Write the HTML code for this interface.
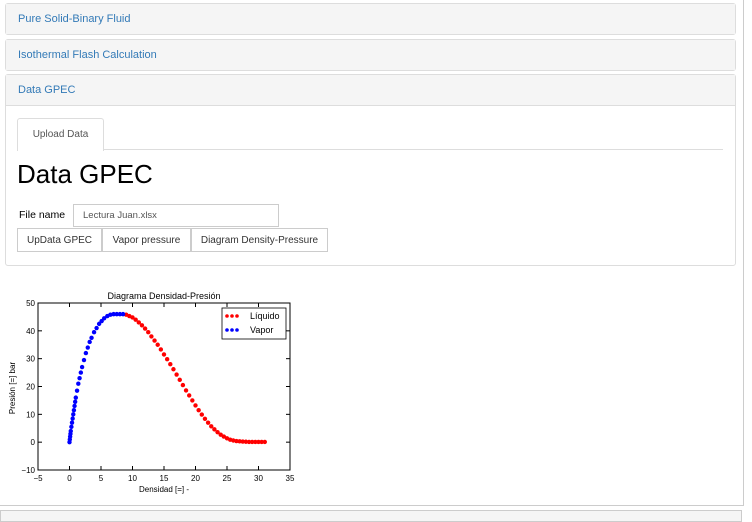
<!DOCTYPE html>
<html><head><meta charset="utf-8"><style>
body{margin:0;width:752px;height:517px;overflow:hidden;background:#fff;font-family:"Liberation Sans",sans-serif;position:relative}
.panel{position:absolute;left:5px;width:729px;border:1px solid #ddd;border-radius:3px;background:#fff}
.ph{background:#f5f5f5;height:30px;line-height:30px;padding-left:12px;font-size:11px;color:#337ab7}
.abs{position:absolute}
.btn{position:absolute;top:228px;height:24px;border:1px solid #ccc;background:#fff;font-size:10px;line-height:23px;text-align:center;color:#333;box-sizing:border-box}
</style></head><body>
<div class="abs" style="left:743px;top:0;width:1px;height:506px;background:#ccc"></div>
<div class="abs" style="left:0;top:505px;width:744px;height:1px;background:#ccc"></div>
<div class="abs" style="left:0;top:510px;width:740px;height:10px;border:1px solid #ccc;background:#f5f5f5"></div>
<div class="panel" style="top:3px;height:30px"><div class="ph">Pure Solid-Binary Fluid</div></div>
<div class="panel" style="top:39px;height:30px"><div class="ph">Isothermal Flash Calculation</div></div>
<div class="panel" style="top:74px;height:190px"><div class="ph" style="border-bottom:1px solid #ddd">Data GPEC</div></div>
<div class="abs" style="left:102px;top:149px;width:621px;height:1px;background:#ddd"></div>
<div class="abs" style="left:17px;top:118px;width:85px;height:32px;border:1px solid #ddd;border-bottom:none;border-radius:3px 3px 0 0;background:#fff;font-size:10px;color:#555;line-height:32px;text-align:center">Upload Data</div>
<div class="abs" style="left:17px;top:159px;font-size:26px;color:#000">Data GPEC</div>
<div class="abs" style="left:19px;top:209px;font-size:10.5px">File name</div>
<div class="abs" style="left:73px;top:204px;width:206px;height:23px;border:1px solid #ccc;box-sizing:border-box;font-size:9.5px;color:#555;line-height:21px;padding-left:9px">Lectura Juan.xlsx</div>
<div class="btn" style="left:17px;width:85px">UpData GPEC</div>
<div class="btn" style="left:102px;width:89px">Vapor pressure</div>
<div class="btn" style="left:191px;width:137px">Diagram Density-Pressure</div>
<svg class="abs" style="left:0;top:0" width="752" height="517" id="chart" font-family="Liberation Sans, sans-serif"></svg>
<script>
const vaporX=[0,0.05,0.1,0.15,0.2,0.3,0.4,0.5,0.6,0.7,0.8,0.9,1.0,1.2,1.4,1.6,1.8,2.0,2.3,2.6,2.9,3.2,3.5,3.9,4.3,4.7,5.1,5.5,6.0,6.5,7.0,7.5,8.0,8.5];
const vaporP=[0,1,2,3,4,5.5,7,8.5,10,11.5,13,14.5,16,18.5,21,23,25,27,29.5,32,34,36,37.5,39.5,41,42.5,43.5,44.5,45.3,45.8,46,46,46,46];
const liquidX=[9,9.5,10,10.5,11,11.5,12,12.5,13,13.5,14,14.5,15,15.5,16,16.5,17,17.5,18,18.5,19,19.5,20,20.5,21,21.5,22,22.5,23,23.5,24,24.5,25,25.5,26,26.5,27,27.5,28,28.5,29,29.5,30,30.5,31];
const liquidP=[45.8,45.3,44.8,44,43,42,40.8,39.5,38,36.5,35,33.3,31.5,29.8,28,26.2,24.3,22.4,20.5,18.6,16.8,15,13.2,11.5,9.9,8.4,7,5.7,4.6,3.6,2.7,2,1.4,0.9,0.6,0.4,0.3,0.2,0.15,0.1,0.1,0.1,0.1,0.1,0.1];
const xTicks=[-5,0,5,10,15,20,25,30,35];
const yTicks=[-10,0,10,20,30,40,50];
const svg=document.getElementById('chart');const NS='http://www.w3.org/2000/svg';
const L=38,R=290,T=303,B=470;
const sx=v=>L+(v+5)/40*(R-L), sy=v=>B-(v+10)/60*(B-T);
function mk(t,a,txt){const e=document.createElementNS(NS,t);for(const k in a)e.setAttribute(k,a[k]);if(txt!=null)e.textContent=txt;svg.appendChild(e);return e;}
let e=mk('rect',{x:L,y:T,width:R-L,height:B-T,fill:'#fff',stroke:'#000','stroke-width':1});


xTicks.forEach(t=>{const x=sx(t);mk('line',{x1:x,x2:x,y1:B,y2:B-4,stroke:'#000'});mk('line',{x1:x,x2:x,y1:T,y2:T+4,stroke:'#000'});
 const l=mk('text',{x:x,y:B+11,'font-size':8,'text-anchor':'middle'},(t<0?'\u2212':'')+Math.abs(t));
 
 });
yTicks.forEach(t=>{const y=sy(t);mk('line',{x1:L,x2:L+4,y1:y,y2:y,stroke:'#000'});mk('line',{x1:R,x2:R-4,y1:y,y2:y,stroke:'#000'});
 const l=mk('text',{x:L-3,y:y+3,'font-size':8,'text-anchor':'end'},(t<0?'\u2212':'')+Math.abs(t));
 
 });
e=mk('text',{x:(L+R)/2,y:299,'font-size':9,'text-anchor':'middle'},'Diagrama Densidad-Presión');


e=mk('text',{x:164,y:492,'font-size':8,'text-anchor':'middle'},'Densidad [=] -');


e=mk('text',{x:15,y:388,'font-size':8,'text-anchor':'middle',transform:'rotate(-90 15 388)'},'Presión [=] bar');


liquidX.forEach((v,i)=>{const c=mk('circle',{cx:sx(v),cy:sy(liquidP[i]),r:2.2,fill:'red'});
 
 });
vaporX.forEach((v,i)=>{const c=mk('circle',{cx:sx(v),cy:sy(vaporP[i]),r:2.2,fill:'blue'});
 
 });
e=mk('rect',{x:222,y:308,width:64,height:31,fill:'#fff',stroke:'#000','stroke-width':0.8});


[['red','Líquido',316],['blue','Vapor',330]].forEach(([c,t,y])=>{[227,232,237].forEach(x=>mk('circle',{cx:x,cy:y,r:1.8,fill:c}));
 const l=mk('text',{x:250,y:y+3,'font-size':9},t);
 
 });
</script>
</body></html>
